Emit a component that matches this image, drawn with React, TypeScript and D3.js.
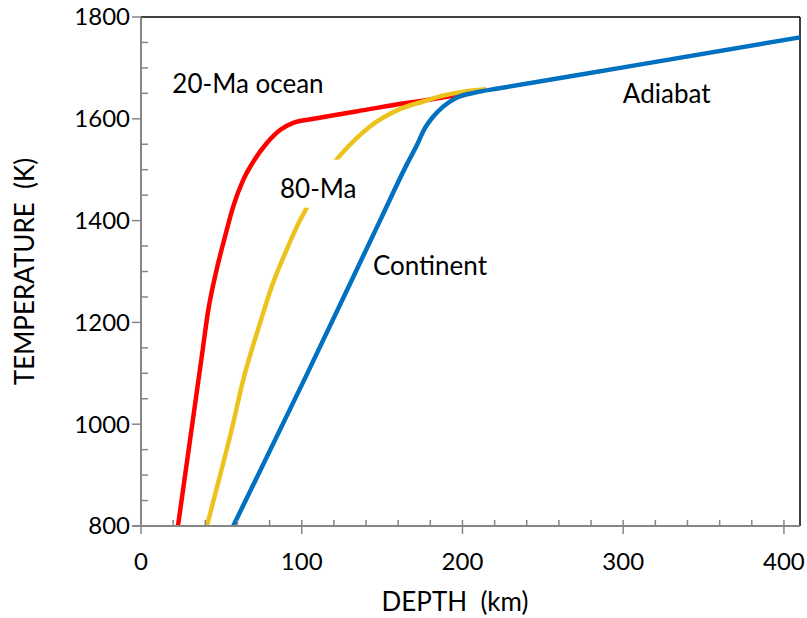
import * as d3 from "d3";
import React from "react";

// depth (km), temperature (K)
const ocean20 = [
  [23, 800], [37.8, 1133], [41.9, 1225], [47, 1303], [52.3, 1369], [57.4, 1428],
  [63.6, 1480], [69.9, 1516], [78.2, 1552], [86.5, 1578], [94.7, 1592], [109.3, 1601],
  [140.4, 1618], [165, 1631], [178, 1637], [200, 1648]
];
const ocean80 = [
  [41, 800], [49, 897], [56.4, 989], [63.6, 1087], [74, 1198], [81.3, 1270],
  [91.6, 1350], [98, 1395], [103.1, 1425], [120.7, 1516], [130, 1549], [142.5, 1585],
  [161, 1619], [175.6, 1634], [186, 1644], [202.6, 1654], [215, 1658]
];
const continent = [
  [57.4, 800], [102, 1090], [148.7, 1400], [165, 1508], [171.9, 1550], [176, 1578],
  [182, 1605], [188, 1624], [196, 1641], [207, 1651], [223, 1660], [300, 1701], [410, 1760]
];

const xTicks = [0, 100, 200, 300, 400];
const yTicks = [800, 1000, 1200, 1400, 1600, 1800];

const curveLabels = [
  {text: "20-Ma ocean", d: 19.5, t: 1651},
  {text: "80-Ma", d: 86.5, t: 1445},
  {text: "Continent", d: 144.3, t: 1293},
  {text: "Adiabat", d: 299.8, t: 1631}
];

const W = 807, H = 618;
const left = 141, right = 800, top = 17, bottom = 526;
const font = "Lato, 'Open Sans', sans-serif";
const axisGray = "#868686";

export default function App() {
  const x = d3.scaleLinear().domain([0, 410]).range([left, right]);
  const y = d3.scaleLinear().domain([800, 1800]).range([bottom, top]);
  const line = d3.line<number[]>()
    .x(d => x(d[0]))
    .y(d => y(d[1]))
    .curve(d3.curveMonotoneX);

  const xMinor = d3.range(0, 411, 20).filter(v => v % 100 !== 0);
  const yMinor = d3.range(800, 1801, 50).filter(v => v % 200 !== 0);

  const lab80 = curveLabels[1];

  return (
    <svg width={W} height={H} style={{position: "absolute", left: 0, top: 0, background: "#fff"}}
         fontFamily={font}>
      {/* plot frame */}
      <line x1={left} x2={right} y1={top} y2={top} stroke="#000" strokeWidth={1.5}/>
      <line x1={right} x2={right} y1={top} y2={bottom} stroke="#000" strokeWidth={1.5}/>

      {/* curves */}
      <path d={line(ocean20) || ""} fill="none" stroke="#ff0000" strokeWidth={4.5} strokeLinejoin="round"/>
      <path d={line(ocean80) || ""} fill="none" stroke="#ecc21c" strokeWidth={4.5} strokeLinejoin="round"/>
      <path d={line(continent) || ""} fill="none" stroke="#0070c0" strokeWidth={4.5} strokeLinejoin="round"/>

      {/* 80-Ma label sits in a white box that hides the line */}
      <rect x={x(lab80.d) - 6} y={y(lab80.t) - 38} width={90} height={48} fill="#fff"/>

      {curveLabels.map(l => (
        <text key={l.text} x={x(l.d)} y={y(l.t)} fontSize={26} fill="#000">{l.text}</text>
      ))}

      {/* axes */}
      <line x1={left} x2={left} y1={top} y2={bottom} stroke={axisGray} strokeWidth={2}/>
      <line x1={left - 9} x2={right} y1={bottom} y2={bottom} stroke={axisGray} strokeWidth={2}/>
      {yTicks.map(v => (
        <line key={"ym" + v} x1={left - 9} x2={left} y1={y(v)} y2={y(v)} stroke={axisGray} strokeWidth={1.5}/>
      ))}
      {yMinor.map(v => (
        <line key={"yn" + v} x1={left} x2={left + 7} y1={y(v)} y2={y(v)} stroke={axisGray} strokeWidth={1.5}/>
      ))}
      {xTicks.map(v => (
        <line key={"xm" + v} x1={x(v)} x2={x(v)} y1={bottom - 6} y2={bottom + 8} stroke={axisGray} strokeWidth={1.5}/>
      ))}
      {xMinor.map(v => (
        <line key={"xn" + v} x1={x(v)} x2={x(v)} y1={bottom - 6} y2={bottom} stroke={axisGray} strokeWidth={1.5}/>
      ))}

      {/* tick labels */}
      {yTicks.map(v => (
        <text key={"yl" + v} x={left - 11} y={y(v)} dy="0.35em" textAnchor="end" fontSize={24} fill="#000">{v}</text>
      ))}
      {xTicks.map(v => (
        <text key={"xl" + v} x={x(v)} y={570} textAnchor="middle" fontSize={24} fill="#000">{v}</text>
      ))}

      {/* axis titles */}
      <text x={455} y={611} textAnchor="middle" fontSize={26} fill="#000" style={{whiteSpace: "pre"}}>DEPTH  (km)</text>
      <text transform={`translate(34, ${(top + bottom) / 2}) rotate(-90)`} textAnchor="middle" fontSize={26}
            fill="#000" style={{whiteSpace: "pre"}}>TEMPERATURE  (K)</text>
    </svg>
  );
}
